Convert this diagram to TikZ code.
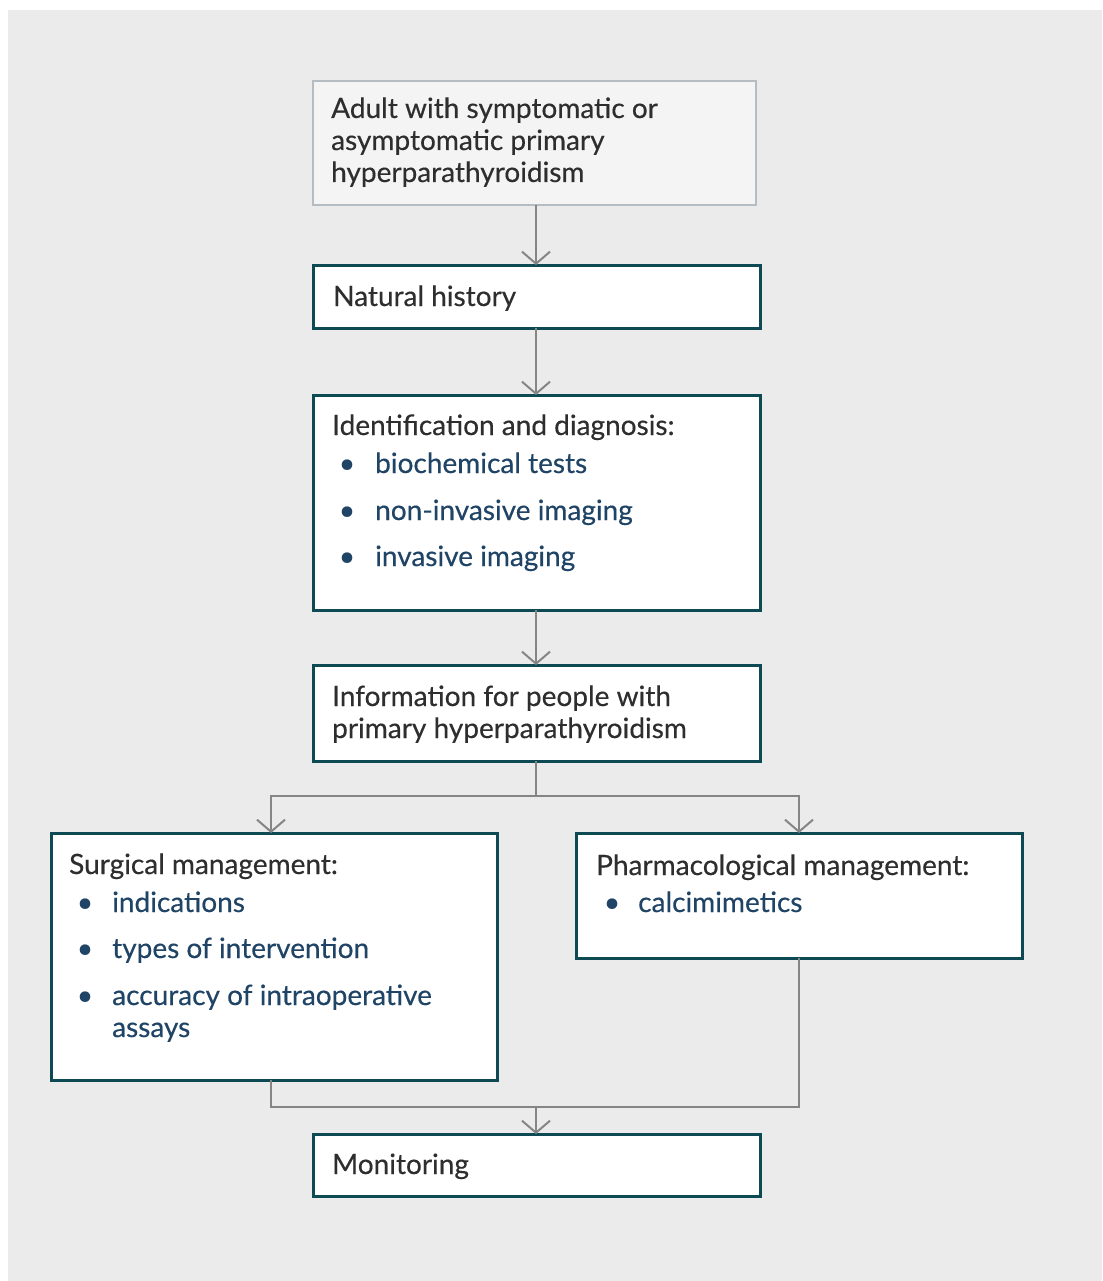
\documentclass[tikz,border=0pt]{standalone}
\usepackage{fontspec}
\setmainfont{Lato}[FakeBold=0.35]
\usetikzlibrary{arrows.meta}
\definecolor{bggrey}{HTML}{EBEBEB}
\definecolor{teal}{HTML}{0E4A53}
\definecolor{lightbox}{HTML}{F4F4F4}
\definecolor{lightedge}{HTML}{B5BDC2}
\definecolor{txt}{HTML}{2E2E2E}
\definecolor{bul}{HTML}{1F4466}
\definecolor{conn}{HTML}{858585}
\tikzset{
  box/.style={draw=teal, line width=3pt, fill=white, anchor=north west, inner sep=0pt, outer sep=0pt},
  startbox/.style={draw=lightedge, line width=1.5pt, fill=lightbox, anchor=north west, inner sep=0pt, outer sep=0pt},
  lbl/.style={anchor=base west, inner sep=0pt, text=txt, font=\fontsize{28}{32}\selectfont, align=left},
  item/.style={anchor=base west, inner sep=0pt, text=bul, font=\fontsize{28}{32}\selectfont, align=left},
  dot/.style={anchor=base, inner sep=0pt, text=bul, font=\fontsize{28}{32}\selectfont},
  conn/.style={draw=conn, line width=2.2pt},
  arr/.style={conn, -{Straight Barb[length=12pt,width=28pt,line width=2pt]}}
}
\begin{document}
\begin{tikzpicture}[x=1pt,y=-1pt]
\useasboundingbox (0,0) rectangle (1102,1281);
\fill[white] (0,0) rectangle (1102,1281);
\fill[bggrey] (8,10) rectangle (1102,1281);
% boxes
\node[startbox, minimum width=443pt, minimum height=124pt] (b1) at (313,81) {};
\node[box, minimum width=447pt, minimum height=63pt] (b2) at (313,265) {};
\node[box, minimum width=447pt, minimum height=215pt] (b3) at (313,395) {};
\node[box, minimum width=447pt, minimum height=96pt] (b4) at (313,665) {};
\node[box, minimum width=446pt, minimum height=247pt] (b5) at (51,833) {};
\node[box, minimum width=446pt, minimum height=125pt] (b6) at (576,833) {};
\node[box, minimum width=447pt, minimum height=62pt] (b7) at (313,1134) {};
% texts (multi-line nodes: base = last line)
\node[lbl] (t1) at (331,182) {Adult with symptomatic or\\asymptomatic primary\\hyperparathyroidism};
\node[lbl] (t2) at (333,306) {Natural history};
\node[lbl] (t3) at (332,435) {Identification and diagnosis:};
\node[dot] (d31) at (347,473) {\textbullet};
\node[item] (i31) at (375,473) {biochemical tests};
\node[dot] (d32) at (347,520) {\textbullet};
\node[item] (i32) at (375,520) {non-invasive imaging};
\node[dot] (d33) at (347,566) {\textbullet};
\node[item] (i33) at (375,566) {invasive imaging};
\node[lbl] (t4) at (332,738) {Information for people with\\primary hyperparathyroidism};
\node[lbl] (t5) at (69,874) {Surgical management:};
\node[dot] (d51) at (85,912) {\textbullet};
\node[item] (i51) at (112,912) {indications};
\node[dot] (d52) at (85,958) {\textbullet};
\node[item] (i52) at (112,958) {types of intervention};
\node[dot] (d53) at (85,1005) {\textbullet};
\node[item] (i53) at (112,1037) {accuracy of intraoperative\\assays};
\node[lbl] (t6) at (596,875) {Pharmacological management:};
\node[dot] (d61) at (612,912) {\textbullet};
\node[item] (i61) at (638,912) {calcimimetics};
\node[lbl] (t7) at (332,1174) {Monitoring};
% connectors
\coordinate (split) at (536,796);
\coordinate (merge) at (536,1107);
\draw[arr] (b1.south -| 536,0) -- (b2.north -| 536,0);
\draw[arr] (b2.south -| 536,0) -- (b3.north -| 536,0);
\draw[arr] (b3.south -| 536,0) -- (b4.north -| 536,0);
\draw[conn] (b4.south -| 536,0) -- (split);
\draw[arr] (split) -| (b5.north -| 271,0);
\draw[arr] (split) -| (b6.north -| 799,0);
\draw[conn] (b5.south -| 271,0) |- (merge);
\draw[conn] (b6.south -| 799,0) |- (merge);
\draw[arr] (merge) -- (b7.north -| 536,0);
\end{tikzpicture}
\end{document}
